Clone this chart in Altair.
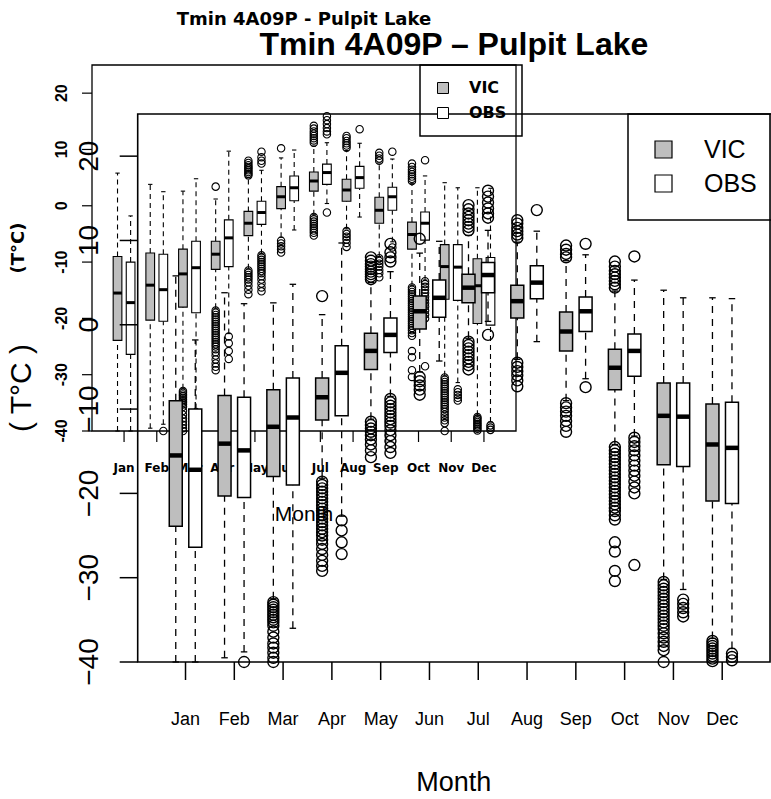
import altair as alt
import pandas as pd

MONTHS = ["Jan", "Feb", "Mar", "Apr", "May", "Jun", "Jul", "Aug", "Sep", "Oct", "Nov", "Dec"]
SERIES = ["VIC", "OBS"]
FILLS = ["#BEBEBE", "#FFFFFF"]
BIG_TITLE = "Tmin 4A09P \u2013 Pulpit Lake"
INSET_TITLE = "Tmin 4A09P - Pulpit Lake"
X_TITLE = "Month"
BIG_Y_TITLE = "( T\u00b0C )"
INSET_Y_TITLE = "(T\u00b0C)"
Y_TICKS = [-40, -30, -20, -10, 0, 10, 20]

VIC_Q1 = [-23.9, -20.3, -18.0, -11.3, -5.3, -0.5, 2.6, 0.8, -3.1, -7.7, -16.6, -20.9]
VIC_MED = [-15.5, -14.1, -12.1, -8.6, -3.1, 1.6, 4.4, 2.8, -0.8, -5.1, -10.8, -14.2]
VIC_Q3 = [-9.0, -8.4, -7.7, -6.3, -1.0, 3.4, 6.0, 4.7, 1.5, -2.9, -6.9, -9.4]
VIC_LO = [-40.0, -39.5, -32.5, -18.2, -11.2, -5.6, -1.6, -4.1, -9.0, -14.2, -30.2, -37.2]
VIC_HI = [5.8, 3.8, 2.6, 1.2, 5.0, 8.5, 10.6, 9.8, 7.6, 4.0, 4.1, 3.2]

OBS_Q1 = [-26.4, -20.5, -19.0, -10.8, -3.3, 0.9, 3.8, 3.1, -0.8, -6.1, -16.8, -21.2]
OBS_MED = [-17.2, -14.9, -11.0, -5.7, -1.2, 3.2, 5.9, 5.0, 1.6, -3.1, -10.9, -14.6]
OBS_Q3 = [-10.0, -8.6, -6.3, -2.5, 0.8, 5.3, 7.4, 7.0, 3.3, -1.1, -6.9, -9.2]
OBS_LO = [-40.0, -38.8, -36.0, -22.7, -8.5, -4.3, 0.4, -2.0, -6.4, -13.2, -31.4, -38.4]
OBS_HI = [-1.8, 2.5, 4.8, 9.7, 6.3, 9.9, 11.2, 11.1, 8.3, 5.3, 3.2, 3.1]

VIC_OUT = [
    [],
    [],
    [-32.9, -33.2, -33.5, -33.8, -34.1, -34.4, -34.7, -35.0, -35.3, -35.7, -36.4, -37.1,
     -37.8, -38.3, -38.9, -39.5, -40.0],
    [3.4, -18.6, -19.0, -19.4, -19.8, -20.2, -20.6, -21.0, -21.4, -21.8, -22.2, -22.6, -23.0,
     -23.4, -23.8, -24.2, -24.6, -25.0, -25.5, -26.0, -26.6, -27.3, -28.0, -28.6, -29.2],
    [5.4, 5.7, 6.0, 6.3, 6.6, 6.9, 7.2, 7.6, 8.0, -11.5, -11.9, -12.3, -12.7, -13.1, -13.6,
     -14.2, -14.9, -15.7],
    [10.2, -6.2, -6.7, -7.2, -7.7, -8.3],
    [11.2, 11.6, 12.0, 12.4, 12.8, 13.2, 13.7, 14.2, -2.0, -2.4, -2.8, -3.2, -3.6, -4.0,
     -4.4, -4.8, -5.3],
    [10.3, 10.7, 11.1, 11.5, 12.0, 12.4, -4.5, -5.0, -5.5, -6.0, -6.6, -7.3],
    [8.0, 8.4, 8.9, 9.4, -9.3, -9.8, -10.3, -10.8, -11.4, -12.0, -12.7],
    [4.4, 4.8, 5.2, 5.6, 6.0, 6.4, 6.9, 7.5, -14.5, -14.9, -15.3, -15.7, -16.1, -16.5, -16.9,
     -17.3, -17.7, -18.1, -18.5, -18.9, -19.3, -19.7, -20.1, -20.5, -20.9, -21.3, -21.7,
     -22.1, -22.6, -23.1, -25.8, -26.9, -29.2, -30.4],
    [-30.5, -30.9, -31.3, -31.7, -32.1, -32.5, -32.9, -33.3, -33.7, -34.1, -34.5, -34.9,
     -35.3, -35.7, -36.1, -36.6, -37.1, -37.6, -38.1, -38.6, -40.0],
    [-37.5, -37.8, -38.1, -38.4, -38.7, -39.0, -39.3, -39.6, -39.9],
]
OBS_OUT = [
    [],
    [-40.0],
    [],
    [-23.2, -24.4, -25.8, -27.2],
    [7.5, 8.0, 8.6, 9.6, -8.8, -9.2, -9.6, -10.0, -10.4, -10.8, -11.2, -11.6, -12.0, -12.5,
     -13.1, -13.8, -14.5, -15.2],
    [],
    [12.7, 13.2, 13.8, 14.5, 15.2, 15.9, -1.2],
    [13.6],
    [9.6, -7.4],
    [8.1, -13.4, -13.9, -14.4, -14.9, -15.5, -16.1, -16.7, -17.3, -17.9, -18.6, -19.3, -20.0,
     -28.5],
    [-32.6, -33.1, -33.6, -34.1, -34.6],
    [-39.0, -39.4, -39.8],
]


def build_stats():
    rows = []
    for i in range(len(MONTHS)):
        rows.append(dict(month=i + 1, series="VIC", q1=VIC_Q1[i], med=VIC_MED[i],
                         q3=VIC_Q3[i], lo=VIC_LO[i], hi=VIC_HI[i]))
        rows.append(dict(month=i + 1, series="OBS", q1=OBS_Q1[i], med=OBS_MED[i],
                         q3=OBS_Q3[i], lo=OBS_LO[i], hi=OBS_HI[i]))
    return pd.DataFrame(rows)


def build_outliers():
    rows = []
    for series, lists in (("VIC", VIC_OUT), ("OBS", OBS_OUT)):
        for i, vals in enumerate(lists):
            for v in vals:
                rows.append(dict(month=i + 1, series=series, value=v))
    return pd.DataFrame(rows)


stats = build_stats()
outliers = build_outliers()
xticks = pd.DataFrame({"month": list(range(1, len(MONTHS) + 1)), "label": MONTHS})
yticks_big = pd.DataFrame({"v": Y_TICKS, "label": [str(v).replace("-", "\u2212") for v in Y_TICKS]})
yticks_inset = pd.DataFrame({"v": Y_TICKS, "label": [str(v) for v in Y_TICKS]})

# layout / style (not data)
BOX_X = (0.02, 12.98)
BOX_Y = (-40, 25)
X_MID, Y_MID = 6.5, -7.5
OFF, HALF, CAP = 0.2, 0.133, 0.0665

POS_CALC = dict(pos=f"datum.month + (datum.series == 'VIC' ? {-OFF} : {OFF})")
BOX_CALC = dict(
    left=f"datum.pos - {HALF}", right=f"datum.pos + {HALF}",
    cl=f"datum.pos - {CAP}", cr=f"datum.pos + {CAP}",
)

INSET = dict(
    xdom=[-2.7921, 20.774], ydom=[-105.355, 36.544],
    lw=1.1, dash=[5, 4], box_w=1.1, med_w=3, pt=55, pt_w=1.1, frame_w=1.3,
    xtick=11, ytick=10, tick_w=1.2,
    xlab=dict(font="DejaVu Sans", fontSize=12, fontWeight="bold", yOffset=41),
    ylab=dict(font="Liberation Sans", fontSize=16, fontWeight="bold", xOffset=-25),
    xtitle=dict(font="Liberation Sans", fontSize=21, fontWeight="normal", yOffset=90),
    ytitle=dict(font="DejaVu Sans", fontSize=18, fontWeight="bold", xOffset=-68),
    yticks=yticks_inset, ytitle_text=INSET_Y_TITLE,
    legend=alt.Legend(orient="none", legendX=420, legendY=65, title=None, padding=15,
                      symbolType="square", symbolSize=121, symbolStrokeColor="black",
                      symbolStrokeWidth=1, labelFont="DejaVu Sans", labelFontWeight="bold",
                      labelFontSize=16, labelColor="black", labelOffset=18, rowPadding=9,
                      strokeColor="black"),
    title=INSET_TITLE, title_font="DejaVu Sans", title_size=18, title_y=32.1,
)

BIG = dict(
    xdom=[-2.8023, 13.0], ydom=[-56.25, 38.522],
    lw=1.3, dash=[7, 6], box_w=1.5, med_w=4.5, pt=120, pt_w=1.4, frame_w=1.6,
    xtick=18, ytick=18, tick_w=1.5,
    xlab=dict(font="Liberation Sans", fontSize=18, fontWeight="normal", yOffset=63),
    ylab=dict(font="Liberation Sans", fontSize=28, fontWeight="normal", xOffset=-40),
    xtitle=dict(font="Liberation Sans", fontSize=27, fontWeight="normal", yOffset=129),
    ytitle=dict(font="Liberation Sans", fontSize=30, fontWeight="normal", xOffset=-107),
    yticks=yticks_big, ytitle_text=BIG_Y_TITLE,
    legend=alt.Legend(orient="none", legendX=628, legendY=114, title=None, padding=23,
                      symbolType="square", symbolSize=289, symbolStrokeColor="black",
                      symbolStrokeWidth=1.2, labelFont="Liberation Sans", labelFontSize=25,
                      labelColor="black", labelOffset=28, rowPadding=8,
                      strokeColor="black"),
    title=BIG_TITLE, title_font="Liberation Sans", title_size=32, title_y=32.0,
)


def group(st):
    xs = alt.Scale(domain=st["xdom"], nice=False, zero=False)
    ys = alt.Scale(domain=st["ydom"], nice=False, zero=False)

    def X(f):
        return alt.X(f, type="quantitative", scale=xs, axis=None)

    def Y(f):
        return alt.Y(f, type="quantitative", scale=ys, axis=None)

    def XD(v):
        return alt.XDatum(v, type="quantitative", scale=xs, axis=None)

    def YD(v):
        return alt.YDatum(v, type="quantitative", scale=ys, axis=None)

    base = alt.Chart(stats).transform_calculate(**POS_CALC).transform_calculate(**BOX_CALC)

    w_up = base.mark_rule(color="black", strokeWidth=st["lw"], strokeDash=st["dash"]).encode(
        x=X("pos"), y=Y("q3"), y2=alt.Y2("hi"))
    w_lo = base.mark_rule(color="black", strokeWidth=st["lw"], strokeDash=st["dash"]).encode(
        x=X("pos"), y=Y("lo"), y2=alt.Y2("q1"))
    cap_hi = base.mark_rule(color="black", strokeWidth=st["lw"]).encode(
        x=X("cl"), x2=alt.X2("cr"), y=Y("hi"))
    cap_lo = base.mark_rule(color="black", strokeWidth=st["lw"]).encode(
        x=X("cl"), x2=alt.X2("cr"), y=Y("lo"))
    boxes = base.mark_rect(stroke="black", strokeWidth=st["box_w"], opacity=1).encode(
        x=X("left"), x2=alt.X2("right"), y=Y("q1"), y2=alt.Y2("q3"),
        fill=alt.Fill("series:N", scale=alt.Scale(domain=SERIES, range=FILLS),
                      legend=st["legend"]))
    meds = base.mark_rule(color="black", strokeWidth=st["med_w"], strokeCap="butt").encode(
        x=X("left"), x2=alt.X2("right"), y=Y("med"))
    pts = alt.Chart(outliers).transform_calculate(**POS_CALC).mark_point(
        shape="circle", filled=False, color="black", opacity=1,
        size=st["pt"], strokeWidth=st["pt_w"]).encode(x=X("pos"), y=Y("value"))

    one = pd.DataFrame({"t": [st["title"]]})
    frame = alt.Chart(one).mark_rect(fillOpacity=0, stroke="black",
                                     strokeWidth=st["frame_w"]).encode(
        x=XD(BOX_X[0]), x2=alt.X2Datum(BOX_X[1]),
        y=YD(BOX_Y[0]), y2=alt.Y2Datum(BOX_Y[1]))

    # axes: ticks and labels drawn through the same scales
    xt = alt.Chart(xticks)
    x_tick = xt.mark_rule(color="black", strokeWidth=st["tick_w"], y2Offset=st["xtick"]).encode(
        x=X("month"), y=YD(BOX_Y[0]), y2=alt.Y2Datum(BOX_Y[0]))
    x_lab = xt.mark_text(color="black", align="center", baseline="alphabetic",
                         **st["xlab"]).encode(x=X("month"), y=YD(BOX_Y[0]), text="label:N")
    yt = alt.Chart(st["yticks"])
    y_tick = yt.mark_rule(color="black", strokeWidth=st["tick_w"], x2Offset=-st["ytick"]).encode(
        x=XD(BOX_X[0]), x2=alt.X2Datum(BOX_X[0]), y=Y("v"))
    y_lab = yt.mark_text(color="black", align="center", baseline="alphabetic", angle=270,
                         **st["ylab"]).encode(x=XD(BOX_X[0]), y=Y("v"), text="label:N")
    x_title = alt.Chart(pd.DataFrame({"t": [X_TITLE]})).mark_text(
        color="black", align="center", baseline="alphabetic", **st["xtitle"]).encode(
        x=XD(X_MID), y=YD(BOX_Y[0]), text="t:N")
    y_title = alt.Chart(pd.DataFrame({"t": [st["ytitle_text"]]})).mark_text(
        color="black", align="center", baseline="alphabetic", angle=270, **st["ytitle"]).encode(
        x=XD(BOX_X[0]), y=YD(Y_MID), text="t:N")
    title = alt.Chart(one).mark_text(font=st["title_font"], fontSize=st["title_size"],
                                     fontWeight="bold", align="center",
                                     baseline="alphabetic", color="black").encode(
        x=XD(X_MID), y=YD(st["title_y"]), text="t:N")
    return alt.layer(x_title, y_title, w_up, w_lo, cap_hi, cap_lo, boxes, meds, pts, frame,
                     x_tick, x_lab, y_tick, y_lab, title)


chart = alt.layer(group(INSET), group(BIG)).resolve_scale(
    x="independent", y="independent", fill="independent"
).properties(
    width=771, height=799, autosize=alt.AutoSizeParams(type="none"), padding=0,
    background="white"
).configure_view(strokeWidth=0).configure_legend(strokeWidth=1.5)

chart.save("out.html", embed_options={"renderer": "svg", "actions": False})
